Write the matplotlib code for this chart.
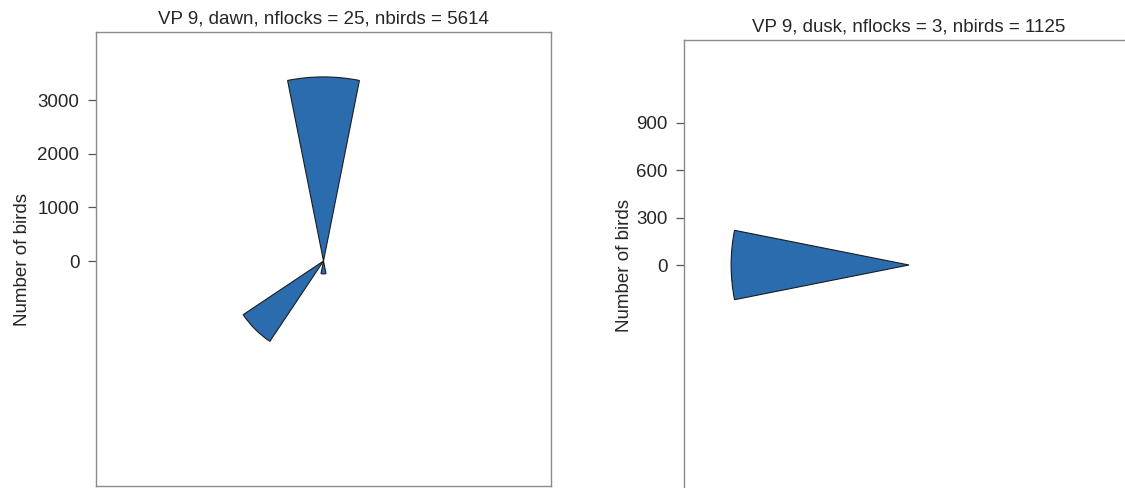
import matplotlib
matplotlib.use("Agg")
import matplotlib.pyplot as plt
from matplotlib.patches import Wedge

plt.rcParams["font.family"] = ["Liberation Sans", "DejaVu Sans"]

# Rose diagram data: compass bearing of each sector centre (degrees) and bird counts
sector_width = 22.5

dawn_title = "VP 9, dawn, nflocks = 25, nbirds = 5614"
dawn_bearings = [0.0, 180.0, 225.0]
dawn_counts = [3430, 240, 1800]
dawn_ticks = [0, 1000, 2000, 3000]

dusk_title = "VP 9, dusk, nflocks = 3, nbirds = 1125"
dusk_bearings = [270.0]
dusk_counts = [1125]
dusk_ticks = [0, 300, 600, 900]

W, H = 1125, 488
fig = plt.figure(figsize=(W / 100, H / 100), dpi=100)
fig.patch.set_facecolor("white")

fill_color = "#2a6cad"
edge_color = "#1c1c1c"
spine_color = "#8a8a8a"
text_color = "#262626"


def rose_panel(rect_px, xlim, ylim, bearings, counts, ticks, title, label_x):
    left, top, width, height = rect_px
    ax = fig.add_axes([left / W, (H - top - height) / H, width / W, height / H])
    for b, n in zip(bearings, counts):
        # compass bearing (clockwise from north) -> mathematical angle
        centre = 90.0 - b
        ax.add_patch(Wedge((0, 0), n, centre - sector_width / 2, centre + sector_width / 2,
                           facecolor=fill_color, edgecolor=edge_color, linewidth=0.8))
    ax.set_xlim(*xlim)
    ax.set_ylim(*ylim)
    ax.set_xticks([])
    ax.set_yticks(ticks)
    ax.set_yticklabels([str(t) for t in ticks])
    ax.tick_params(axis="y", length=6, width=0.9, color="#555555", pad=6,
                   labelsize=13.5, labelcolor=text_color)
    for s in ax.spines.values():
        s.set_color(spine_color)
        s.set_linewidth(1.0)
    ax.set_title(title, fontsize=13.5, color=text_color, pad=6)
    ax.set_ylabel("Number of birds", fontsize=13.5, color=text_color)
    ax.yaxis.set_label_coords(label_x, 0.5)
    return ax


rose_panel((96, 32, 455, 454), (-4239, 4239), (-4192, 4267),
           dawn_bearings, dawn_counts, dawn_ticks, dawn_title, -0.143)
rose_panel((684, 40, 450, 450), (-1423, 1423), (-1423, 1423),
           dusk_bearings, dusk_counts, dusk_ticks, dusk_title, -0.113)

fig.savefig("out.png", dpi=100)
